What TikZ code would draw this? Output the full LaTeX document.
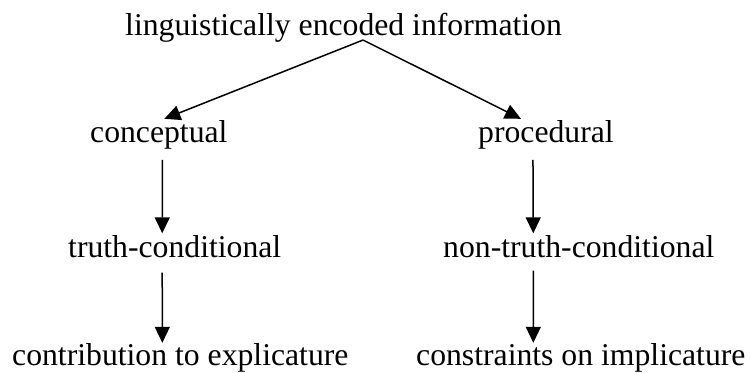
\documentclass[tikz,border=0pt]{standalone}
\usepackage{fontspec}
\setmainfont{Liberation Serif}
\usetikzlibrary{arrows.meta}

\begin{document}
\begin{tikzpicture}[x=1pt,y=-1pt,
    label/.style={inner sep=0pt,anchor=base west,font=\fontsize{31.7}{38}\selectfont},
    arr/.style={line width=1.5pt,-{Triangle[length=16pt,width=15pt]}}]
  \useasboundingbox (0,0) rectangle (751,372);

  % text of the tree
  \node[label] (top)    at (125,35)  {linguistically encoded information};
  \node[label] (conc)   at (90,142)  {conceptual};
  \node[label] (proc)   at (478,142) {procedural};
  \node[label] (truth)  at (68,257)  {truth-conditional};
  \node[label] (ntruth) at (443,257) {non-truth-conditional};
  \node[label] (expl)   at (12,365)  {contribution to explicature};
  \node[label] (impl)   at (416,365) {constraints on implicature};

  % branches from the root
  \draw[arr] ([xshift=19.5pt,yshift=2pt]top.south) -- ([xshift=5.5pt,yshift=1pt]conc.north);
  \draw[arr] ([xshift=19.5pt,yshift=2pt]top.south) -- ([xshift=-25pt,yshift=1pt]proc.north);

  % left column
  \draw[arr] ([xshift=3.5pt,yshift=-11pt]conc.south) -- ([xshift=-12.5pt,yshift=1.5pt]truth.north);
  \draw[arr] ([xshift=-12.5pt,yshift=-15pt]truth.south) -- ([xshift=-18pt]expl.north);

  % right column
  \draw[arr] ([xshift=-13pt,yshift=-11pt]proc.south) -- ([xshift=-45.5pt,yshift=1.5pt]ntruth.north);
  \draw[arr] ([xshift=-45.5pt,yshift=-13pt]ntruth.south) -- ([xshift=-47.5pt]impl.north);
\end{tikzpicture}
\end{document}
